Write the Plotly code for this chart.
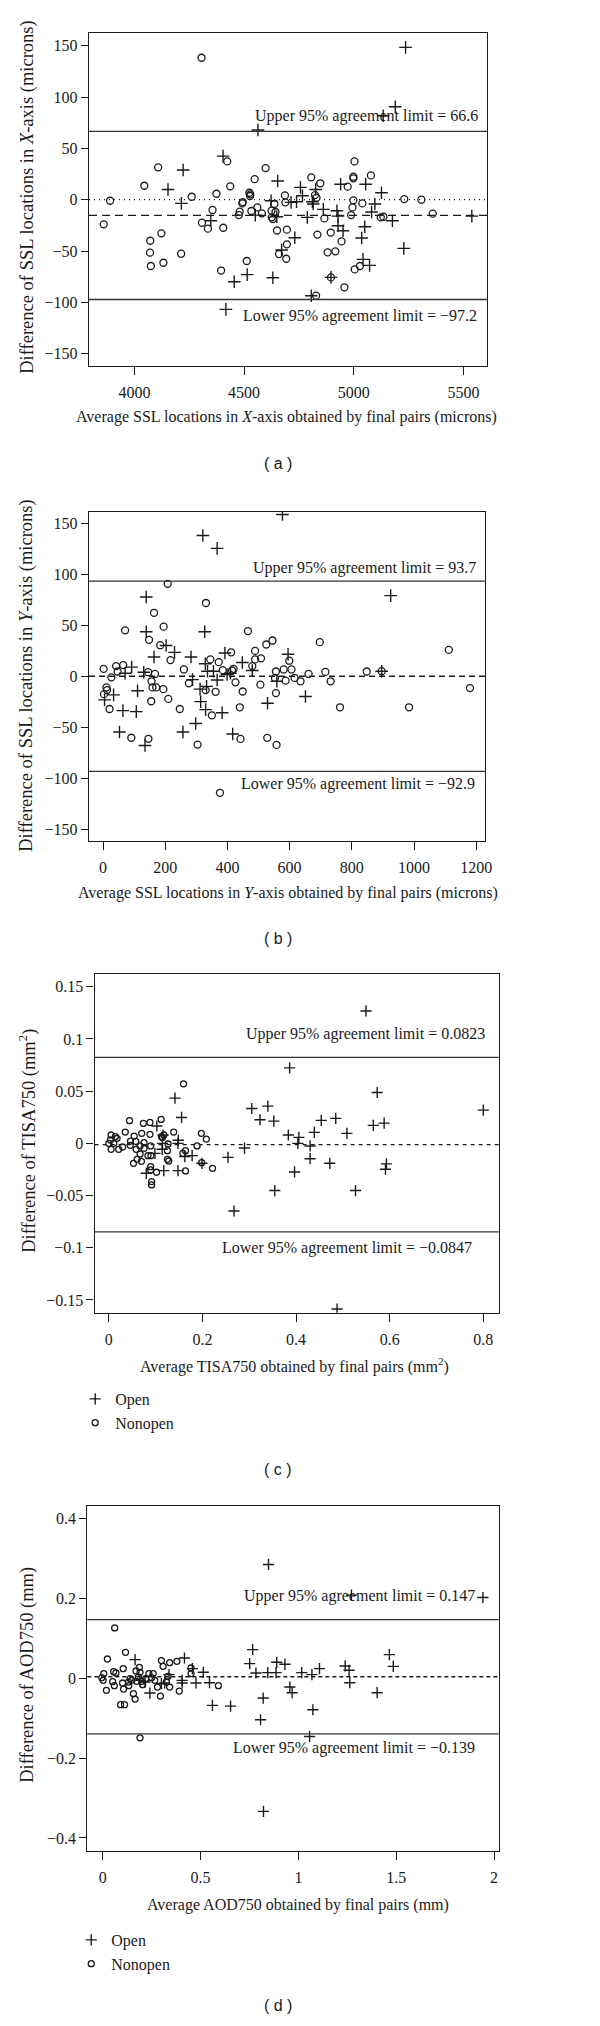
import plotly.graph_objects as go

# ---- panel (a): SSL X-axis (microns) ----
a_open_x = [5236, 5189, 5134, 4563, 4404, 4222, 4153, 4214, 4348, 4653, 4623, 4551, 4649, 4714,
            4739, 4757, 4766, 4731, 4671, 4455, 4514, 4631, 4788, 4811, 4815, 4826, 4861, 4896,
            4923, 4928, 4928, 4951, 4940, 5054, 5126, 5096, 5081, 5050, 5036, 5042, 5072, 5176,
            5228, 5538, 4806, 4417]
a_open_y = [148.4, 90.6, 81.8, 67.9, 42.5, 28.9, 10, -3.6, -20.5, 18.2, -1, -15, -16.6, -2.6,
            -2, 12, 3.9, -37, -49, -79.9, -73, -76, -17.2, -2, -4.2, 10, -9.4, -75.7,
            -10.7, -16, -25.3, -30.2, 15, 15, 6.8, -4.2, -12, -26.3, -37.3, -58.1, -64, -20.5,
            -47.4, -16, -93.5, -106.8]
a_non_x = [4306, 3889, 3860, 4045, 4108, 4072, 4071, 4075, 4123, 4132, 4213, 4261, 4308, 4335,
           4356, 4374, 4405, 4423, 4437, 4395, 4476, 4480, 4492, 4494, 4524, 4528, 4527, 4512,
           4533, 4548, 4560, 4581, 4598, 4625, 4626, 4631, 4638, 4643, 4650, 4659, 4686, 4688,
           4692, 4695, 4695, 4806, 4823, 4830, 4847, 4834, 4866, 4881, 4895, 4896, 4916, 4944,
           4957, 4972, 4988, 4994, 4998, 4998, 4998, 5003, 5004, 5028, 5039, 5078, 5123, 5135,
           5230, 5308, 5360, 4828]
a_non_y = [138.3, -1, -24, 13.6, 31.5, -40, -51.6, -64.6, -32.8, -61.4, -52.6, 2.9, -22.4, -28.2,
           -10, 5.8, -27.3, 37.3, 13, -69, -15, -11.7, -3.6, -2.3, 6.8, 5.2, 3.6, -59.7,
           -11, 20, -7.5, -13.3, 30.8, -10.7, -17.2, -18.8, -4.2, -12, -30, -53, 4.2, -2.6,
           -57.5, -29.2, -43.5, 21.8, 4.5, 2, 16, -34, -18.2, -51.3, -32, -75.7, -50.3, -40.6,
           -85.4, 12.7, -15, -7.5, -0.6, 20.8, 22.4, 37.3, -67.9, -64.6, -3.6, 23.7, -17.2, -16.6,
           0.6, 0, -13.6, -93.5]
a_upper, a_lower = 66.6, -97.2

# ---- panel (b): SSL Y-axis (microns) ----
b_open_x = [577, 321, 367, 925, 139, 139, 327, 203, 230, 164, 283, 392, 448, 595, 329, 131, 71,
            92, 336, 355, 399, 410, 480, 367, 288, 333, 312, 559, 111, 5, 34, 64, 107, 314, 330,
            383, 298, 529, 651, 53, 257, 417, 135, 896]
b_open_y = [159, 138.4, 125.8, 79.5, 78.1, 44, 44, 30.5, 23.8, 19.2, 19.2, 23.2, 13.9, 21.9, 12.6,
            4.3, 3.3, 9.3, 5.3, 5.3, 2, 3.3, 6, -3.3, -3, -9.6, -12.3, -4.6, -13.9, -22.8, -17.9,
            -33.4, -34.4, -24.5, -32.4, -35.4, -46, -26.2, -19.5, -54.3, -54.3, -56.3, -67.6, 5.3]
b_non_x = [208, 331, 164, 195, 71, 466, 148, 184, 545, 525, 697, 1112, 217, 345, 372, 412, 489,
           489, 508, 480, 2, 42, 65, 47, 27, 145, 167, 260, 385, 415, 420, 581, 606, 556, 599,
           661, 715, 848, 896, 156, 159, 171, 194, 276, 426, 553, 587, 616, 635, 732, 11, 13, 3,
           330, 362, 449, 506, 556, 155, 210, 21, 247, 350, 440, 762, 984, 1180, 91, 146, 304,
           442, 528, 558, 376]
b_non_y = [91, 72.2, 62.6, 49, 45.4, 44.7, 36.1, 30.8, 35.4, 31.5, 33.8, 26.2, 16.2, 16.9, 14.2,
           23.8, 25.2, 16.9, 17.9, 10.3, 7.6, 10.3, 11.3, 5, -0.7, 4.3, 2.6, 7, 6.3, 6, 7.6, 7, 7,
           5, 15.6, 2.6, 4.6, 5, 5.3, -4.6, -10.6, -10.6, -12.3, -6.6, -5.6, -1.3, -4, -1.3, -4.6,
           -4.6, -10.6, -13.2, -17.2, -13.2, -14.9, -14.6, -7.9, -16.2, -24.2, -21.9, -31.8, -31.8,
           -38, -30.1, -30.1, -30.1, -11.3, -60, -61, -66.7, -61.1, -60.1, -67, -114]
b_upper, b_lower = 93.7, -92.9

# ---- panel (c): TISA750 (mm2) ----
c_open_x = [0.5495, 0.3863, 0.5734, 0.1414, 0.3054, 0.3398, 0.323, 0.3525, 0.1555, 0.4538, 0.4848,
            0.565, 0.5882, 0.80, 0.5087, 0.439, 0.3835, 0.406, 0.4039, 0.43, 0.2899, 0.43, 0.2547,
            0.178, 0.1991, 0.4721, 0.5931, 0.591, 0.3968, 0.3546, 0.527, 0.1478, 0.1175, 0.0802,
            0.1478, 0.1485, 0.114, 0.0985, 0.1027, 0.116, 0.1625, 0.1147, 0.2674, 0.4876]
c_open_y = [0.1268, 0.0723, 0.0487, 0.0433, 0.0334, 0.0357, 0.0226, 0.0213, 0.0248, 0.022, 0.0239,
            0.0172, 0.0194, 0.0318, 0.0096, 0.0105, 0.008, 0.0057, 0, -0.0025, -0.0045, -0.0147,
            -0.0134, -0.0118, -0.0191, -0.0191, -0.0197, -0.0248, -0.0274, -0.0452, -0.0452,
            -0.0261, -0.0261, -0.0287, 0, 0.003, -0.0057, -0.0096, 0.0166, 0.008, -0.0127, 0,
            -0.0648, -0.1587]
c_non_x = [0.1597, 0.0443, 0.0739, 0.088, 0.1119, 0.1386, 0.0352, 0.0542, 0.0704, 0.088, 0.1977,
           0.2083, 0.0049, 0, 0.0035, 0.0049, 0.0106, 0.0176, 0.0211, 0.0296, 0.0457, 0.0464,
           0.0577, 0.0584, 0.0668, 0.0753, 0.0753, 0.0894, 0.0668, 0.0528, 0.0605, 0.0697, 0.0837,
           0.09, 0.0894, 0.0894, 0.102, 0.0915, 0.0915, 0.1126, 0.1175, 0.1266, 0.1252, 0.1252,
           0.128, 0.1583, 0.1639, 0.1639, 0.1886, 0.2216, 0.1984, 0.0141, 0.1147]
c_non_y = [0.057, 0.0217, 0.0191, 0.02, 0.0229, 0.0108, 0.0108, 0.007, 0.0096, 0.0086, 0.0096,
           0.0041, 0.008, 0, 0.0032, -0.0057, 0, 0.0048, -0.0057, -0.0035, -0.0019, 0.0022,
           0.0019, -0.0057, -0.0025, 0.0006, -0.0048, -0.0025, -0.0102, -0.0191, -0.0153, -0.0172,
           -0.0118, -0.0118, -0.0223, -0.0255, -0.0277, -0.0366, -0.0398, 0.0064, 0.008, -0.0006,
           -0.007, -0.0153, -0.0169, -0.0096, -0.007, -0.0264, -0.0025, -0.0239, -0.0185, 0.0064,
           0.0055]
c_upper, c_lower = 0.0823, -0.0847

# ---- panel (d): AOD750 (mm) ----
d_open_x = [0.847, 1.271, 1.943, 0.766, 1.465, 0.751, 0.889, 0.931, 0.4175, 0.165, 0.7828, 0.8434,
            0.8855, 1.017, 1.069, 1.1077, 1.239, 1.259, 1.485, 0.5135, 0.458, 0.4764, 0.5455,
            0.4057, 0.4057, 1.2626, 0.9562, 0.968, 1.4024, 0.5606, 0.6532, 0.8199, 1.074, 0.8064,
            0.2407, 0.3384, 0.2997, 0.1902, 1.0572, 0.8215, 0.2155, 0.3165]
d_open_y = [0.2854, 0.2084, 0.2025, 0.072, 0.0594, 0.0368, 0.0402, 0.0352, 0.051, 0.0469, 0.0134,
            0.0142, 0.0142, 0.0142, 0.0092, 0.0243, 0.031, 0.0201, 0.0301, 0.0151, 0.0243, -0.0117,
            -0.0109, -0.005, -0.0117, -0.0109, -0.0218, -0.036, -0.036, -0.0678, -0.0695, -0.0494,
            -0.0787, -0.1038, -0.0368, 0.0092, -0.0134, -0.005, -0.1456, -0.3333, -0.009, -0.0117]
d_non_x = [0.0606, 0.1162, 0.0236, 0.2997, 0.3418, 0.3788, 0.1044, 0.1869, 0.17, 0.0556, 0.0673,
           0.0051, -0.005, 0.0017, 0.0185, 0.0505, 0.0589, 0.101, 0.106, 0.1313, 0.133, 0.1566,
           0.165, 0.0909, 0.1111, 0.1818, 0.1734, 0.1902, 0.1987, 0.2037, 0.2189, 0.2357, 0.2576,
           0.266, 0.2795, 0.2946, 0.3081, 0.3333, 0.3249, 0.3418, 0.3906, 0.4512, 0.4512, 0.5909,
           0.1902, 0.1481, 0.1397, 0.2492]
d_non_y = [0.1264, 0.0653, 0.0485, 0.0444, 0.0393, 0.0427, 0.0243, 0.0276, 0.0184, 0.0167, 0.0134,
           0.0117, 0.0017, -0.005, -0.0301, -0.0084, -0.0184, -0.0117, -0.0268, -0.0092, -0.0184,
           -0.0385, -0.0519, -0.0661, -0.0661, 0.0033, -0.0075, 0.0151, -0.0075, -0.0159, -0.0008,
           0.0117, 0.0117, -0.005, -0.0218, -0.0444, 0.0301, 0.005, -0.0092, -0.0218, -0.0318,
           0.0117, 0.0259, -0.0184, -0.149, -0.005, -0.0008, 0.0017]
d_upper, d_lower = 0.147, -0.139

# tick labels
ssl_y_ticks = [-150, -100, -50, 0, 50, 100, 150]
ssl_y_text = ["−150", "−100", "−50", "0", "50", "100", "150"]
a_x_ticks = [4000, 4500, 5000, 5500]
b_x_ticks = [0, 200, 400, 600, 800, 1000, 1200]
c_y_ticks = [-0.15, -0.1, -0.05, 0, 0.05, 0.1, 0.15]
c_y_text = ["−0.15", "−0.1", "−0.05", "0", "0.05", "0.1", "0.15"]
c_x_ticks = [0, 0.2, 0.4, 0.6, 0.8]
c_x_text = ["0", "0.2", "0.4", "0.6", "0.8"]
d_y_ticks = [-0.4, -0.2, 0, 0.2, 0.4]
d_y_text = ["−0.4", "−0.2", "0", "0.2", "0.4"]
d_x_ticks = [0, 0.5, 1, 1.5, 2]
d_x_text = ["0", "0.5", "1", "1.5", "2"]

SERIF = "Liberation Serif"
SANS = "Liberation Sans"
INK = "#1a1a1a"
# the page body keeps its default 8px margin, so the figure is sized to fit inside it
PAGE_W, PAGE_H, BODY = 600, 2026, 8
W, H = PAGE_W - 2 * BODY, PAGE_H - 2 * BODY

def px(x):
    return (x - BODY) / W

def py(y):
    return 1 - (y - BODY) / H

panels = [
    dict(tag="( a )", ox=a_open_x, oy=a_open_y, nx=a_non_x, ny=a_non_y, up=a_upper, lo=a_lower,
         up_txt="Upper 95% agreement limit = 66.6", lo_txt="Lower 95% agreement limit = −97.2",
         box=(90, 493, 33, 366), xr=[3793, 5608], yr=[-162, 162.4],
         xt=(a_x_ticks, [str(v) for v in a_x_ticks]), yt=(ssl_y_ticks, ssl_y_text),
         up_pos=(486, 15.5), lo_pos=(485, -17), dash="8px,5px", dotted=True,
         xtitle="Average SSL locations in <i>X</i>-axis obtained by final pairs (microns)",
         ytitle="Difference of SSL locations in <i>X</i>-axis (microns)",
         xt_pos=(290, 417), yt_pos=197, tag_y=463, big=True, legend=None),
    dict(tag="( b )", ox=b_open_x, oy=b_open_y, nx=b_non_x, ny=b_non_y, up=b_upper, lo=b_lower,
         up_txt="Upper 95% agreement limit = 93.7", lo_txt="Lower 95% agreement limit = −92.9",
         box=(90, 490.7, 512, 840.7), xr=[-45, 1228], yr=[-161, 161.5],
         xt=(b_x_ticks, [str(v) for v in b_x_ticks]), yt=(ssl_y_ticks, ssl_y_text),
         up_pos=(484, 12.7), lo_pos=(483, -12.5), dash="6px,4px", dotted=False,
         xtitle="Average SSL locations in <i>Y</i>-axis obtained by final pairs (microns)",
         ytitle="Difference of SSL locations in <i>Y</i>-axis (microns)",
         xt_pos=(291, 893), yt_pos=676, tag_y=938, big=True, legend=None),
    dict(tag="( c )", ox=c_open_x, oy=c_open_y, nx=c_non_x, ny=c_non_y, up=c_upper, lo=c_lower,
         up_txt="Upper 95% agreement limit = 0.0823", lo_txt="Lower 95% agreement limit = −0.0847",
         box=(95.7, 504.7, 974, 1312.7), xr=[-0.0302, 0.833], yr=[-0.1622, 0.1622],
         xt=(c_x_ticks, c_x_text), yt=(c_y_ticks, c_y_text),
         up_pos=(492.7, 23.7), lo_pos=(480, -16), dash="4px,4px", dotted=False,
         xtitle="Average TISA750 obtained by final pairs (mm<sup>2</sup>)",
         ytitle="Difference of TISA750 (mm<sup>2</sup>)",
         xt_pos=(298, 1365.7), yt_pos=1141, tag_y=1469, big=False, legend="legend"),
    dict(tag="( d )", ox=d_open_x, oy=d_open_y, nx=d_non_x, ny=d_non_y, up=d_upper, lo=d_lower,
         up_txt="Upper 95% agreement limit = 0.147", lo_txt="Lower 95% agreement limit = −0.139",
         box=(88.3, 504.7, 1506, 1851), xr=[-0.079, 2.024], yr=[-0.4326, 0.4318],
         xt=(d_x_ticks, d_x_text), yt=(d_y_ticks, d_y_text),
         up_pos=(482.7, 23.3), lo_pos=(482.3, -14.3), dash="4px,3px", dotted=False,
         xtitle="Average AOD750 obtained by final pairs (mm)",
         ytitle="Difference of AOD750 (mm)",
         xt_pos=(301.7, 1905), yt_pos=1675, tag_y=2005, big=False, legend="legend2"),
]

fig = go.Figure()
shapes, annotations, layout_axes = [], [], {}
text_font = dict(family=SERIF, size=16, color=INK)
ytitle_font = dict(family=SERIF, size=18.5, color=INK)

for i, p in enumerate(panels, start=1):
    sfx = "" if i == 1 else str(i)
    xa, ya = "x" + sfx, "y" + sfx
    x0, x1, y0, y1 = p["box"]
    plus_size, circ_size = (9, 7) if p["big"] else (8, 6)
    show = p["legend"] is not None
    leg = p["legend"] or "legend"

    fig.add_trace(go.Scatter(x=p["ox"], y=p["oy"], mode="markers", name="Open",
                             xaxis=xa, yaxis=ya, showlegend=show, legend=leg,
                             marker=dict(symbol="cross-thin-open", size=plus_size, color=INK,
                                         line=dict(color=INK, width=1.4))))
    fig.add_trace(go.Scatter(x=p["nx"], y=p["ny"], mode="markers", name="Nonopen",
                             xaxis=xa, yaxis=ya, showlegend=show, legend=leg,
                             marker=dict(symbol="circle-open", size=circ_size, color=INK,
                                         line=dict(color=INK, width=1.3))))

    axis_style = dict(showline=True, linecolor=INK, linewidth=1.4, mirror=True,
                      ticks="outside", tickcolor=INK, tickwidth=1.2, showgrid=False,
                      zeroline=False, tickfont=text_font, tickmode="array")
    layout_axes["xaxis" + sfx] = dict(axis_style, domain=[px(x0), px(x1)], range=p["xr"],
                                      anchor=ya, tickvals=p["xt"][0], ticktext=p["xt"][1],
                                      ticklen=8, ticklabelstandoff=4)
    layout_axes["yaxis" + sfx] = dict(axis_style, domain=[py(y1), py(y0)], range=p["yr"],
                                      anchor=xa, tickvals=p["yt"][0], ticktext=p["yt"][1],
                                      ticklen=7)

    # agreement limits and mean difference
    for val in (p["up"], p["lo"]):
        shapes.append(dict(type="line", xref=xa + " domain", x0=0, x1=1, yref=ya, y0=val, y1=val,
                           line=dict(color="#333333", width=1.3)))
    mean = (p["up"] + p["lo"]) / 2
    shapes.append(dict(type="line", xref=xa + " domain", x0=0, x1=1, yref=ya, y0=mean, y1=mean,
                       line=dict(color=INK, width=1.4, dash=p["dash"])))
    if p["dotted"]:
        shapes.append(dict(type="line", xref=xa + " domain", x0=0, x1=1, yref=ya, y0=0, y1=0,
                           line=dict(color=INK, width=1.2, dash="1px,4px")))

    annotations.append(dict(text=p["up_txt"], xref="paper", x=px(p["up_pos"][0]), xanchor="right",
                            yref=ya, y=p["up"], yanchor="middle", yshift=p["up_pos"][1],
                            showarrow=False, font=text_font))
    annotations.append(dict(text=p["lo_txt"], xref="paper", x=px(p["lo_pos"][0]), xanchor="right",
                            yref=ya, y=p["lo"], yanchor="middle", yshift=p["lo_pos"][1],
                            showarrow=False, font=text_font))
    annotations.append(dict(text=p["xtitle"], xref="paper", yref="paper",
                            x=px(p["xt_pos"][0]), y=py(p["xt_pos"][1]),
                            xanchor="center", yanchor="middle", showarrow=False, font=text_font))
    annotations.append(dict(text=p["ytitle"], xref="paper", yref="paper", x=px(27), y=py(p["yt_pos"]),
                            xanchor="center", yanchor="middle", textangle=-90, showarrow=False,
                            font=ytitle_font))
    annotations.append(dict(text=p["tag"], xref="paper", yref="paper", x=px(281), y=py(p["tag_y"]),
                            xanchor="center", yanchor="middle", showarrow=False,
                            font=dict(family=SANS, size=16, color=INK)))

legend_style = dict(font=text_font, bgcolor="rgba(0,0,0,0)", xanchor="left", yanchor="top",
                    tracegroupgap=0, itemwidth=30)
fig.update_layout(
    width=W, height=H, margin=dict(l=0, r=0, t=0, b=0),
    paper_bgcolor="white", plot_bgcolor="white",
    shapes=shapes, annotations=annotations,
    legend=dict(legend_style, x=px(76), y=py(1382)),
    legend2=dict(legend_style, x=px(72), y=py(1923)),
    **layout_axes,
)

fig.write_html("out.html")
